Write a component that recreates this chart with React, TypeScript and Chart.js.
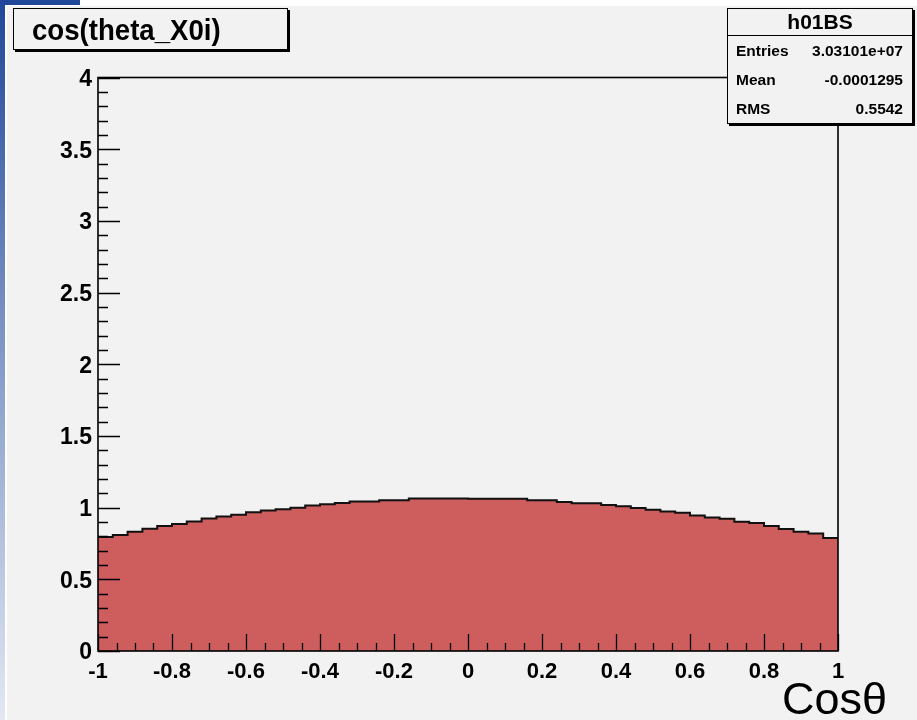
import React, { useEffect, useRef } from "react";
import { Chart, registerables } from "chart.js";

Chart.register(...registerables);

// ---------- data ----------
const xRange = [-1, 1];
const binValues = [
  0.795, 0.809, 0.832, 0.853, 0.871, 0.885, 0.903, 0.924, 0.938, 0.95,
  0.968, 0.98, 0.989, 1.0, 1.014, 1.024, 1.033, 1.042, 1.042, 1.052,
  1.052, 1.063, 1.063, 1.063, 1.063, 1.062, 1.062, 1.062, 1.062, 1.052,
  1.052, 1.04, 1.031, 1.031, 1.019, 1.01, 0.998, 0.986, 0.973, 0.964,
  0.945, 0.931, 0.922, 0.901, 0.892, 0.871, 0.851, 0.832, 0.82, 0.788,
];
const xTickValues = [-1, -0.8, -0.6, -0.4, -0.2, 0, 0.2, 0.4, 0.6, 0.8, 1];
const xTickLabels = ["-1", "-0.8", "-0.6", "-0.4", "-0.2", "0", "0.2", "0.4", "0.6", "0.8", "1"];
const yTickValues = [0, 0.5, 1, 1.5, 2, 2.5, 3, 3.5, 4];
const yTickLabels = ["0", "0.5", "1", "1.5", "2", "2.5", "3", "3.5", "4"];
const xMinorPerMajor = 4;
const yMinorPerMajor = 5;
const histTitle = "cos(theta_X0i)";
const statsName = "h01BS";
const statsLabels = ["Entries", "Mean", "RMS"];
const statsValues = ["3.03101e+07", "-0.0001295", "0.5542"];
const axisTitle = "Cosθ";

const FONT = '"Liberation Sans", Arial, Helvetica, sans-serif';

const rootAxesPlugin = {
  id: "rootAxes",
  afterDatasetsDraw(chart: any) {
    const { ctx, chartArea: a, scales } = chart;
    const x = scales.x;
    const y = scales.y;
    ctx.save();
    ctx.strokeStyle = "#000";
    ctx.lineWidth = 1.3;
    ctx.beginPath();
    for (let m = 0; m < yTickValues.length; m++) {
      const v0 = yTickValues[m];
      const v1 = m + 1 < yTickValues.length ? yTickValues[m + 1] : null;
      const py = Math.round(y.getPixelForValue(v0)) + 0.5;
      ctx.moveTo(a.left, py);
      ctx.lineTo(a.left + 22, py);
      if (v1 !== null) {
        for (let k = 1; k < yMinorPerMajor; k++) {
          const v = v0 + ((v1 - v0) * k) / yMinorPerMajor;
          const p = Math.round(y.getPixelForValue(v)) + 0.5;
          ctx.moveTo(a.left, p);
          ctx.lineTo(a.left + 10, p);
        }
      }
    }
    for (let m = 0; m < xTickValues.length; m++) {
      const v0 = xTickValues[m];
      const v1 = m + 1 < xTickValues.length ? xTickValues[m + 1] : null;
      const px = Math.round(x.getPixelForValue(v0)) + 0.5;
      ctx.moveTo(px, a.bottom);
      ctx.lineTo(px, a.bottom - 17);
      if (v1 !== null) {
        for (let k = 1; k < xMinorPerMajor; k++) {
          const v = v0 + ((v1 - v0) * k) / xMinorPerMajor;
          const p = Math.round(x.getPixelForValue(v)) + 0.5;
          ctx.moveTo(p, a.bottom);
          ctx.lineTo(p, a.bottom - 8);
        }
      }
    }
    ctx.stroke();
    ctx.lineWidth = 1.6;
    ctx.strokeRect(a.left, a.top, a.right - a.left, a.bottom - a.top);
    ctx.restore();
  },
};

export default function App() {
  const canvasRef = useRef<HTMLCanvasElement | null>(null);

  useEffect(() => {
    document.body.style.margin = "0";
    const canvas = canvasRef.current;
    if (!canvas) return;
    const binWidth = (xRange[1] - xRange[0]) / binValues.length;
    const points = binValues.map((v, i) => ({ x: xRange[0] + i * binWidth, y: v }));
    points.push({ x: xRange[1], y: binValues[binValues.length - 1] });

    const chart = new Chart(canvas, {
      type: "line",
      data: {
        datasets: [
          {
            data: points,
            stepped: "before",
            fill: "origin",
            backgroundColor: "#ce5d5d",
            borderColor: "#111",
            borderWidth: 2,
            pointRadius: 0,
            pointHoverRadius: 0,
          } as any,
        ],
      },
      options: {
        animation: false,
        responsive: false,
        devicePixelRatio: 1,
        events: [],
        layout: { padding: { left: 0, top: 77.5, right: 79, bottom: 0 } },
        plugins: { legend: { display: false }, title: { display: false }, tooltip: { enabled: false } },
        scales: {
          x: {
            type: "linear",
            min: xRange[0],
            max: xRange[1],
            afterBuildTicks: (s: any) => {
              s.ticks = xTickValues.map((v) => ({ value: v }));
            },
            afterFit: (s: any) => {
              s.height = 69;
            },
            ticks: {
              autoSkip: false,
              maxRotation: 0,
              padding: 8,
              color: "#000",
              font: { family: FONT, size: 22, weight: "bold" },
              callback: (v: any) => xTickLabels[xTickValues.indexOf(Number(v))],
            },
            grid: { display: false, drawTicks: false },
            border: { display: false },
          },
          y: {
            type: "linear",
            min: 0,
            max: 4,
            afterBuildTicks: (s: any) => {
              s.ticks = yTickValues.map((v) => ({ value: v }));
            },
            afterFit: (s: any) => {
              s.width = 98;
            },
            ticks: {
              autoSkip: false,
              padding: 6,
              labelOffset: 2,
              color: "#000",
              font: { family: FONT, size: 23, weight: "bold" },
              callback: (v: any) => yTickLabels[yTickValues.indexOf(Number(v))],
            },
            grid: { display: false, drawTicks: false },
            border: { display: false },
          },
        },
      } as any,
      plugins: [rootAxesPlugin],
    });
    return () => chart.destroy();
  }, []);

  return (
    <div style={{ position: "relative", width: 917, height: 720, background: "#fff", overflow: "hidden" }}>
      <div style={{ position: "absolute", left: 0, top: 0, width: 5, height: 720, background: "linear-gradient(#21479a, #8ea3cd 55%, #e3e8f3)" }} />
      <div style={{ position: "absolute", left: 0, top: 0, width: 80, height: 5, background: "#21479a" }} />
      <div style={{ position: "absolute", left: 7, top: 6, width: 910, height: 714, background: "#f2f2f2" }} />
      <canvas ref={canvasRef} width={917} height={720} style={{ position: "absolute", left: 0, top: 0, width: 917, height: 720 }} />
      <div
        style={{
          position: "absolute",
          left: 13,
          top: 8,
          width: 275,
          height: 42,
          boxSizing: "border-box",
          border: "1.5px solid #000",
          boxShadow: "2px 2px 0 #000",
          background: "#f2f2f2",
          fontFamily: FONT,
          fontWeight: "bold",
          fontSize: 30,
          lineHeight: "40px",
          color: "#000",
          overflow: "visible",
        }}
      >
        <span style={{ position: "absolute", left: 18, top: 1, whiteSpace: "nowrap", transform: "scaleX(0.92)", transformOrigin: "left center" }}>{histTitle}</span>
      </div>
      <div
        style={{
          position: "absolute",
          left: 727,
          top: 8,
          width: 186,
          height: 116,
          boxSizing: "border-box",
          border: "1.5px solid #000",
          boxShadow: "2px 2px 0 #000",
          background: "#f2f2f2",
          fontFamily: FONT,
          fontWeight: "bold",
          color: "#000",
        }}
      >
        <div style={{ height: 26, lineHeight: "26px", textAlign: "center", fontSize: 21, borderBottom: "1.5px solid #000" }}>{statsName}</div>
        {statsLabels.map((lab, i) => (
          <div key={lab} style={{ position: "relative", height: 29, lineHeight: "29px", fontSize: 15.5 }}>
            <span style={{ position: "absolute", left: 8 }}>{lab}</span>
            <span style={{ position: "absolute", right: 9 }}>{statsValues[i]}</span>
          </div>
        ))}
      </div>
      <div style={{ position: "absolute", left: 782, top: 676, fontFamily: FONT, fontSize: 45, lineHeight: "45px", color: "#000", whiteSpace: "nowrap" }}>{axisTitle}</div>
    </div>
  );
}
